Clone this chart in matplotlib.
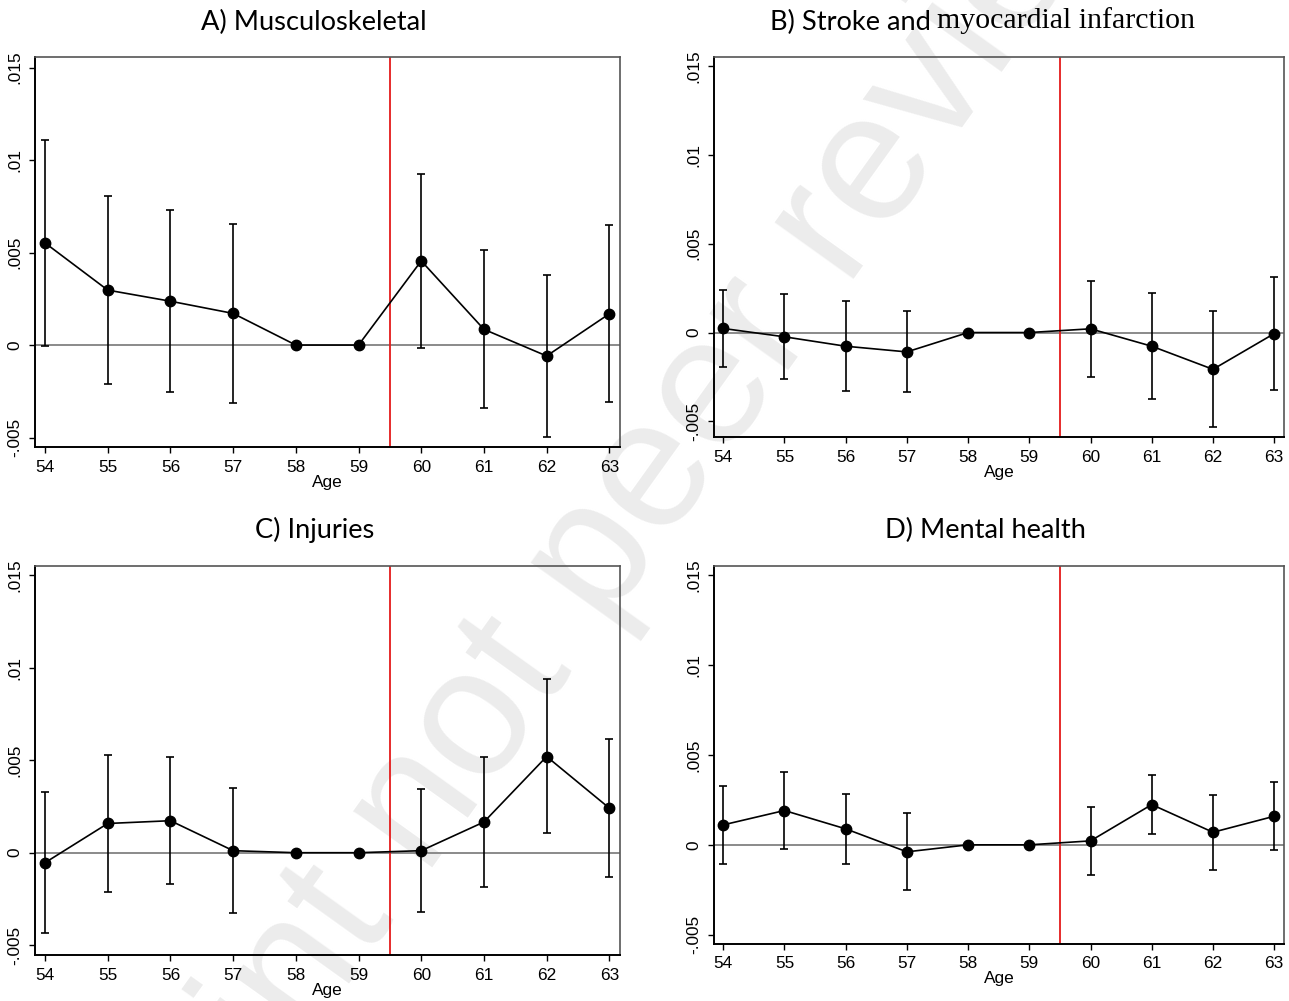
import numpy as np
import matplotlib
matplotlib.use('Agg')
import matplotlib.pyplot as plt

# ages on the x axis
ages = [54, 55, 56, 57, 58, 59, 60, 61, 62, 63]

# A) Musculoskeletal
musc_est = [0.00552, 0.00297, 0.00237, 0.00171, 0.0, 0.0, 0.00455, 0.00085, -0.00059, 0.00169]
musc_hi = [0.01106, 0.00806, 0.00730, 0.00655, np.nan, np.nan, 0.00926, 0.00513, 0.00381, 0.00647]
musc_lo = [-0.00004, -0.00212, -0.00255, -0.00311, np.nan, np.nan, -0.00018, -0.00342, -0.00496, -0.00309]

# B) Stroke and myocardial infarction
stroke_est = [0.00023, -0.00024, -0.00077, -0.00109, 0.0, 0.0, 0.00021, -0.00077, -0.00207, -0.00006]
stroke_hi = [0.00237, 0.00216, 0.00177, 0.00120, np.nan, np.nan, 0.00291, 0.00224, 0.00122, 0.00310]
stroke_lo = [-0.00192, -0.00259, -0.00327, -0.00335, np.nan, np.nan, -0.00252, -0.00374, -0.00534, -0.00321]

# C) Injuries
inj_est = [-0.00054, 0.00158, 0.00173, 0.00011, 0.0, 0.0, 0.00011, 0.00166, 0.00520, 0.00241]
inj_hi = [0.00328, 0.00528, 0.00515, 0.00348, np.nan, np.nan, 0.00346, 0.00519, 0.00938, 0.00614]
inj_lo = [-0.00432, -0.00212, -0.00171, -0.00324, np.nan, np.nan, -0.00320, -0.00185, 0.00104, -0.00131]

# D) Mental health
ment_est = [0.00111, 0.00191, 0.00089, -0.00039, 0.0, 0.0, 0.00022, 0.00224, 0.00070, 0.00159]
ment_hi = [0.00330, 0.00404, 0.00283, 0.00176, np.nan, np.nan, 0.00213, 0.00389, 0.00278, 0.00350]
ment_lo = [-0.00107, -0.00022, -0.00106, -0.00252, np.nan, np.nan, -0.00169, 0.00059, -0.00139, -0.00031]

ytick_vals = [-0.005, 0, 0.005, 0.01, 0.015]
ytick_labels = ['-.005', '0', '.005', '.01', '.015']
cutoff = 59.5

W, H = 1289, 1001
fig = plt.figure(figsize=(W / 100, H / 100), dpi=100)
plt.rcParams['font.family'] = ['Liberation Sans', 'DejaVu Sans']


def px_axes(l, t, r, b):
    return [l / W, 1 - b / H, (r - l) / W, (b - t) / H]


def panel(rect, est, lo, hi, ylim, xlim):
    ax = fig.add_axes(rect)
    ax.patch.set_visible(False)  # let the watermark show through
    est = np.array(est)
    lo = np.array(lo)
    hi = np.array(hi)
    ax.axhline(0, color='#8a8a8a', lw=1.4, zorder=1)
    ax.axvline(cutoff, color='#e41a1a', lw=1.3, zorder=2)
    ok = ~np.isnan(lo)
    x = np.array(ages)
    ax.errorbar(x[ok], est[ok], yerr=[est[ok] - lo[ok], hi[ok] - est[ok]],
                fmt='none', ecolor='black', elinewidth=1.2, capsize=2.8,
                capthick=1.2, zorder=3)
    ax.plot(x, est, color='black', lw=1.2, marker='o', markersize=7.5, zorder=4)
    ax.set_xlim(*xlim)
    ax.set_ylim(*ylim)
    ax.set_xticks(ages)
    ax.set_xticklabels([str(a) for a in ages], fontsize=12.4)
    ax.set_yticks(ytick_vals)
    ax.set_yticklabels(ytick_labels, fontsize=12.4, rotation=90, va='center')
    ax.tick_params(direction='out', length=4.5, width=1.0, pad=4.5)
    ax.set_xlabel('Age', fontsize=12.4, labelpad=0)
    for s in ['top', 'right']:
        ax.spines[s].set_color('#555555')
        ax.spines[s].set_linewidth(1.2)
    for s in ['left', 'bottom']:
        ax.spines[s].set_color('black')
        ax.spines[s].set_linewidth(1.4)
    return ax


panel(px_axes(35, 57, 620, 447), musc_est, musc_lo, musc_hi, (-0.00551, 0.01557), (53.84, 63.17))
panel(px_axes(714, 57, 1284, 437), stroke_est, stroke_lo, stroke_hi, (-0.00588, 0.01551), (53.85, 63.16))
panel(px_axes(35, 566, 620, 955), inj_est, inj_lo, inj_hi, (-0.00553, 0.0155), (53.84, 63.17))
panel(px_axes(714, 566, 1284, 944), ment_est, ment_lo, ment_hi, (-0.00552, 0.01552), (53.85, 63.16))

# titles
tfont = dict(family=['Lato', 'DejaVu Sans'], fontsize=19.6, va='center')
fig.text(314 / W, 1 - 22 / H, 'A) Musculoskeletal', ha='center', **tfont)
fig.text(931 / W, 1 - 22 / H, 'B) Stroke and', ha='right', **tfont)
fig.text(937 / W, 1 - 21 / H, 'myocardial infarction', ha='left', va='center',
         family=['Liberation Serif', 'DejaVu Serif'], fontsize=21.5)
fig.text(315 / W, 1 - 530 / H, 'C) Injuries', ha='center', **tfont)
fig.text(985 / W, 1 - 530 / H, 'D) Mental health', ha='center', **tfont)

# watermark, drawn behind the panels
fig.text(0.473, 0.462, 'Preprint not peer reviewed', fontsize=132, rotation=54.4,
         ha='center', va='center', rotation_mode='anchor', zorder=-1,
         color='#ececec', family=['Liberation Sans', 'DejaVu Sans'])

plt.savefig('out.png', dpi=100)
